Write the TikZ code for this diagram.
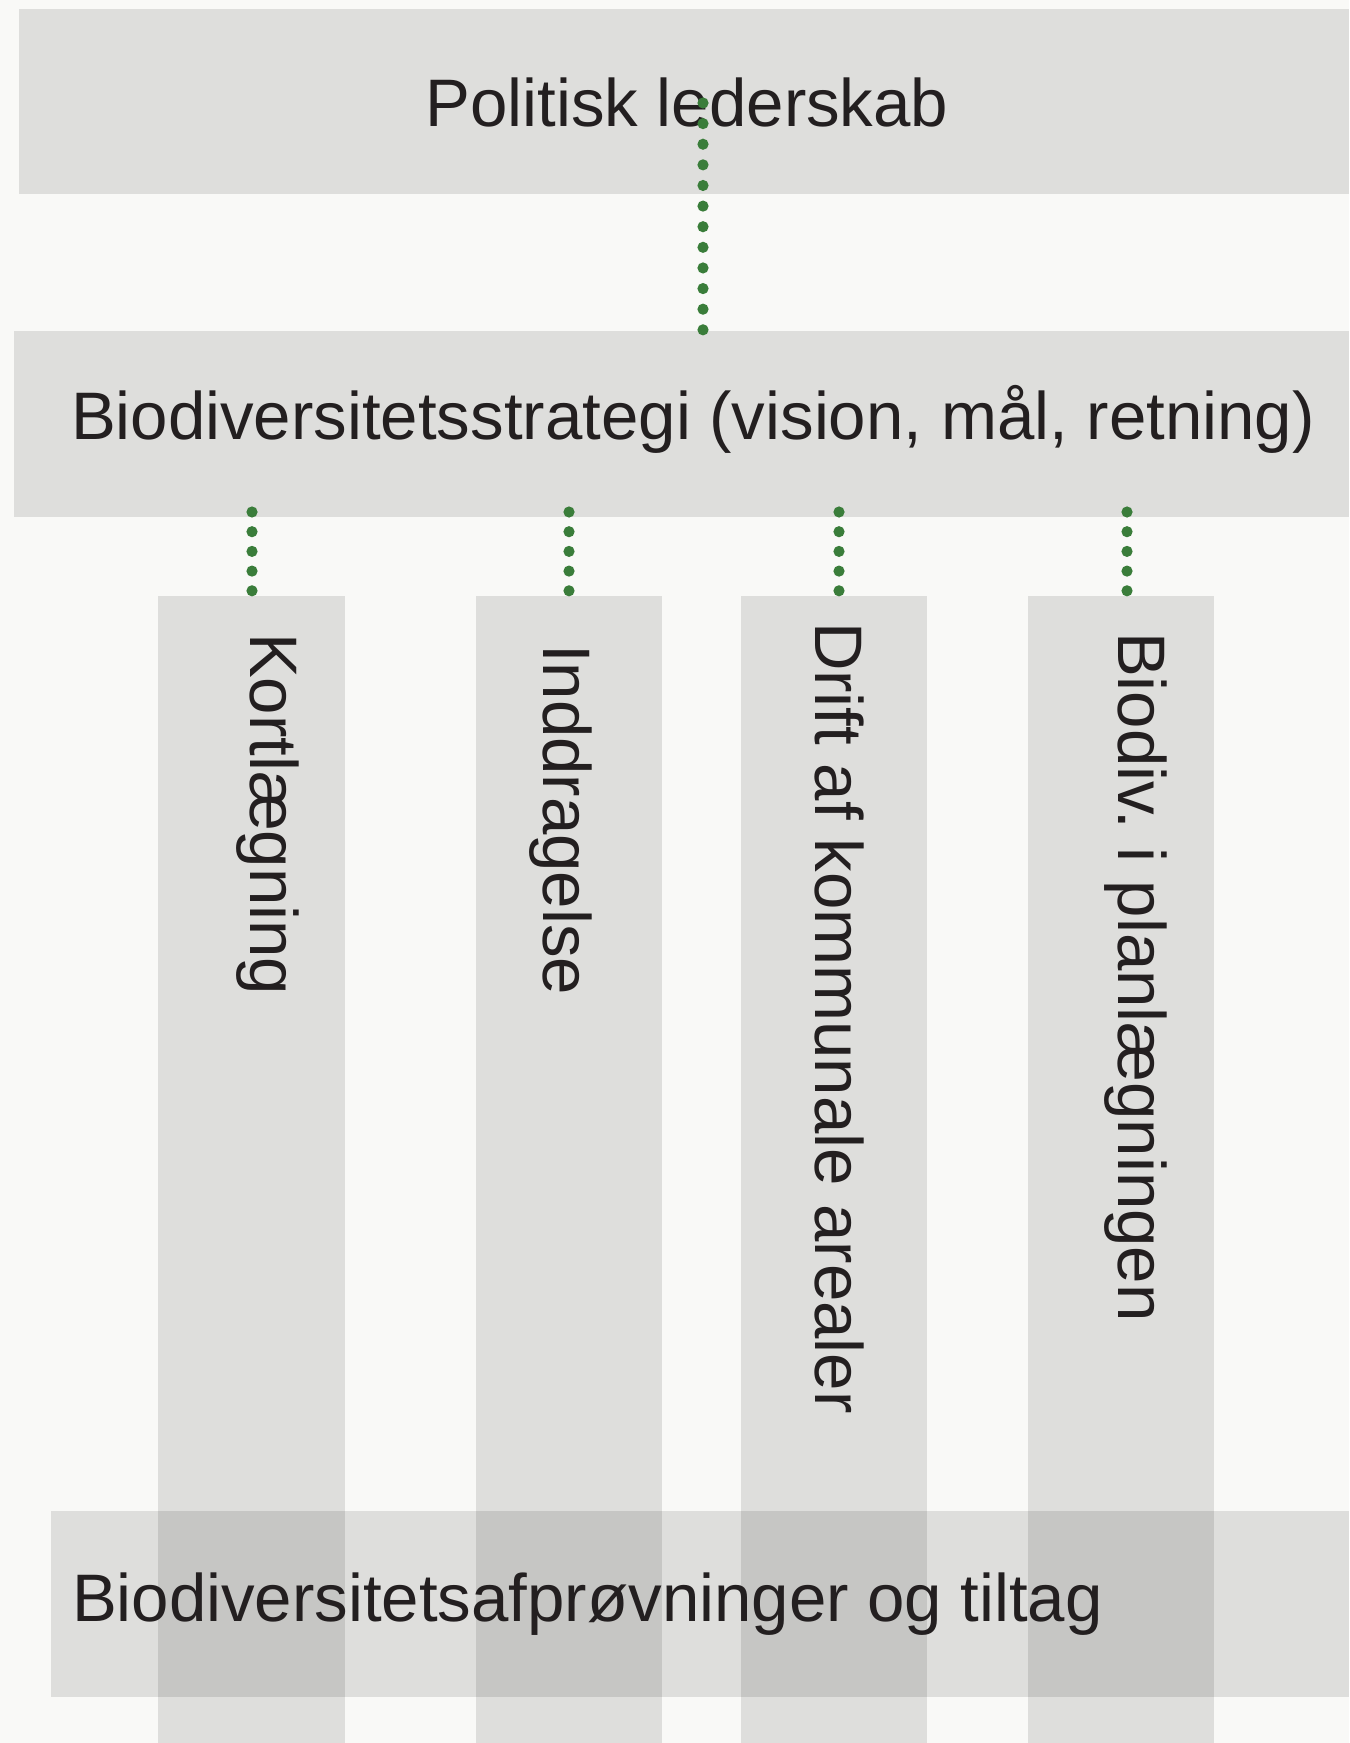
\documentclass[tikz,border=0pt]{standalone}
\usepackage{fontspec}
\setmainfont{Liberation Sans}
\definecolor{bg}{HTML}{F9F9F7}
\definecolor{ink}{HTML}{231F20}
\definecolor{dotgreen}{RGB}{58,125,58}
\tikzset{
  panel/.style={draw=none, fill=black, fill opacity=0.105, inner sep=0pt, outer sep=0pt, anchor=north west},
  txt/.style={text=ink, font=\fontsize{33.6}{40}\selectfont, inner sep=0pt, outer sep=0pt},
  vtxt/.style={txt, rotate=-90, anchor=base west},
  dotline/.style={draw=dotgreen, line width=5.6pt, line cap=round, dash pattern=on 0pt off 9.85pt}
}
\begin{document}
\begin{tikzpicture}[x=0.5pt,y=-0.5pt]
\fill[bg] (0,0) rectangle (1349,1743);
\useasboundingbox (0,0) rectangle (1349,1743);
% panels
\node[panel, minimum width=665pt, minimum height=92.5pt] (lead) at (19,9) {};
\node[panel, minimum width=667.5pt, minimum height=93pt] (strat) at (14,331) {};
\node[panel, minimum width=93.5pt, minimum height=573.5pt] (c1) at (158,596) {};
\node[panel, minimum width=93pt, minimum height=573.5pt] (c2) at (476,596) {};
\node[panel, minimum width=93pt, minimum height=573.5pt] (c3) at (741,596) {};
\node[panel, minimum width=93pt, minimum height=573.5pt] (c4) at (1028,596) {};
\node[panel, minimum width=649pt, minimum height=93pt] (trials) at (51,1511) {};
% texts
\node[txt, anchor=base] (leadtxt) at (687,127) {Politisk lederskab};
\node[txt, anchor=base west] (strattxt) at (71,439) {Biodiversitetsstrategi (vision, mål, retning)};
\node[txt, anchor=base west] (trialstxt) at (72,1621) {Biodiversitetsafprøvninger og tiltag};
\node[vtxt] (t1) at (250,633) {Kortlægning};
\node[vtxt] (t2) at (543,644) {Inddragelse};
\node[vtxt] (t3) at (815,622) {Drift af kommunale arealer};
\node[vtxt] (t4) at (1118,632) {Biodiv.\ i planlægningen};
% connectors
\coordinate (d0) at (703,103);
\draw[dotline, dash pattern=on 0pt off 10.31pt] (d0) -- (d0 |- strat.north);
\coordinate (s1) at (252,512);
\coordinate (s2) at (569,512);
\coordinate (s3) at (839,512);
\coordinate (s4) at (1127,512);
\draw[dotline] (s1) -- (s1 |- c1.north);
\draw[dotline] (s2) -- (s2 |- c2.north);
\draw[dotline] (s3) -- (s3 |- c3.north);
\draw[dotline] (s4) -- (s4 |- c4.north);
\end{tikzpicture}
\end{document}
